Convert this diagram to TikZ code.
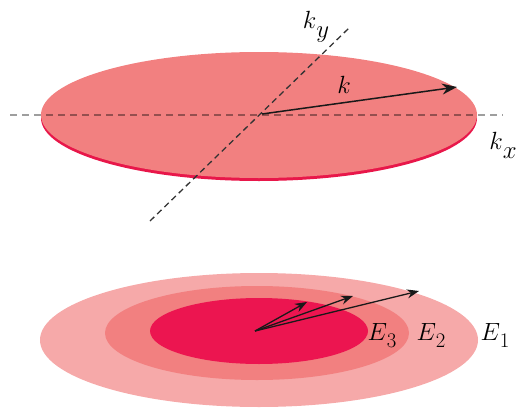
\documentclass[tikz,border=0pt]{standalone}
\usetikzlibrary{arrows.meta}
\definecolor{salmon}{HTML}{F28080}
\definecolor{rim}{HTML}{E8174A}
\definecolor{pale}{HTML}{F6A9A9}
\definecolor{crimson}{HTML}{EC1550}
\newcommand{\bigsub}[1]{\raisebox{-0.28em}{\fontsize{24}{28}\selectfont$#1$}}
\newcommand{\esub}[1]{\raisebox{-0.25em}{\fontsize{22}{26}\selectfont$#1$}}
\tikzset{
  vec/.style={draw=black!90, line width=1.5pt, -{Stealth[length=15pt,width=11pt]}},
  svec/.style={draw=black!90, line width=1.3pt, -{Stealth[length=12pt,width=9pt]}},
  lab/.style={font=\fontsize{32}{38}\selectfont, inner sep=0pt},
  elab/.style={font=\fontsize{28}{34}\selectfont, inner sep=0pt},
}
\begin{document}
\begin{tikzpicture}[x=1pt,y=-1pt]
\useasboundingbox (0,0) rectangle (528,410);
% top disc
\fill[rim] (259,118) ellipse [x radius=218, y radius=63];
\fill[salmon] (259,115) ellipse [x radius=218, y radius=63];
\coordinate (c) at (262,114);
\coordinate (xl) at (10,115);
\coordinate (xr) at (503,115);
\coordinate (yb) at (150,221);
\coordinate (yt) at (349,28);
\draw[black, opacity=0.38, line width=1.8pt, dash pattern=on 7pt off 5pt] (xl) -- (xr);
\draw[black!80, line width=1.3pt, dash pattern=on 6pt off 4pt] (yb) -- (yt);
\coordinate (kt) at (457,87);
\draw[vec] (c) -- (kt);
\node[lab] (ky) at (316,27) {$k$\bigsub{y}};
\node[lab] (k) at (344,85) {$k$};
\node[lab] (kx) at (503,145) {$k$\bigsub{x}};
% bottom discs
\fill[pale] (259,340) ellipse [x radius=219, y radius=67];
\fill[salmon] (257,333) ellipse [x radius=152, y radius=47];
\fill[crimson] (259,331) ellipse [x radius=109, y radius=33];
\coordinate (o) at (255,331);
\coordinate (a3) at (307,302);
\coordinate (a2) at (353,296);
\coordinate (a1) at (419,291);
\draw[svec] (o) -- (a3);
\draw[svec] (o) -- (a2);
\draw[svec] (o) -- (a1);
\node[elab] (e3) at (382,335) {$E$\esub{3}};
\node[elab] (e2) at (431,335) {$E$\esub{2}};
\node[elab] (e1) at (495,335) {$E$\esub{1}};
\end{tikzpicture}
\end{document}
